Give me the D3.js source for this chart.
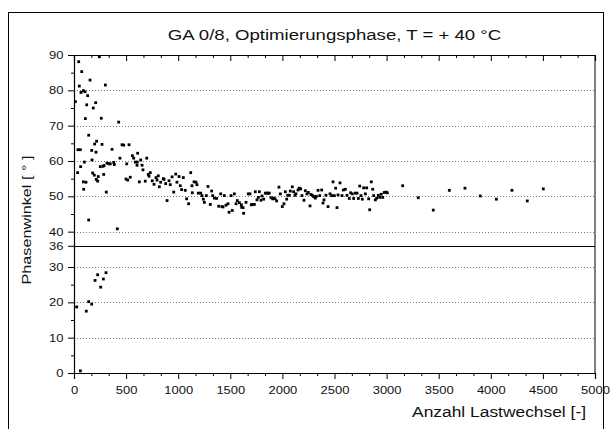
<!DOCTYPE html>
<html>
<head>
<meta charset="utf-8">
<script src="https://cdn.jsdelivr.net/npm/d3@7"></script>
<style>
  body { margin: 0; background: #fff; }
  text { font-family: "Liberation Sans", Arial, Helvetica, sans-serif; fill: #111; }
</style>
</head>
<body>
<script>
'use strict';

// chart texts
const titleText = "GA 0/8, Optimierungsphase, T = + 40 °C";
const xLabelText = "Anzahl Lastwechsel [-]";
const yLabelText = "Phasenwinkel [ ° ]";

// tick values
const xTickValues = [0, 500, 1000, 1500, 2000, 2500, 3000, 3500, 4000, 4500, 5000];
const yTickValues = [0, 10, 20, 30, 36, 40, 50, 60, 70, 80, 90];
const yGridValues = [10, 20, 30, 40, 50, 60, 70, 80];
const yMinorValues = [5, 15, 25, 45, 55, 65, 75, 85];
const breakValue = 36;

// measured points: Anzahl Lastwechsel
const lastwechsel = [
  13, 45, 74, 51, 67, 90, 106, 38, 61, 35, 64, 90, 93, 99, 109, 122, 131, 141, 115, 141,
  154, 170, 173, 179, 185, 198, 208, 211, 217, 195, 214, 233, 227, 243, 252, 262, 269, 278, 285, 288,
  301, 310, 317, 336, 348, 365, 381, 387, 416, 429, 441, 461, 477, 499, 506, 515, 528, 540, 560, 573,
  588, 607, 611, 605, 627, 640, 653, 662, 684, 698, 713, 720, 732, 751, 768, 787, 809, 797, 819, 832,
  857, 864, 880, 893, 912, 924, 941, 957, 976, 988, 1008, 1020, 1033, 1049, 1068, 1081, 1100, 1120, 1132, 1135,
  1152, 1171, 1180, 1193, 1216, 1228, 1241, 1251, 1270, 1286, 1308, 1321, 1331, 1347, 1369, 1389, 1408, 1420, 1430, 1443,
  1459, 1478, 1488, 1507, 1519, 1539, 1555, 1567, 1587, 1606, 1609, 1622, 1628, 1651, 1673, 1689, 1702, 1708, 1731, 1740,
  1756, 1769, 1779, 1795, 1804, 1820, 1836, 1849, 1862, 1874, 1891, 1907, 1916, 1929, 1945, 1967, 1980, 1999, 2015, 2028,
  2041, 2051, 2066, 2076, 2095, 2108, 2121, 2130, 2150, 2162, 2175, 2188, 2207, 2220, 2236, 2249, 2265, 2274, 2287, 2300,
  2316, 2325, 2342, 2358, 2377, 2390, 2399, 2418, 2438, 2457, 2473, 2486, 2498, 2511, 2524, 2534, 2553, 2572, 2585, 2604,
  2620, 2642, 2655, 2671, 2684, 2700, 2716, 2729, 2742, 2754, 2767, 2780, 2796, 2809, 2828, 2838, 2853, 2867, 2876, 2892,
  2905, 2921, 2934, 2949, 2963, 2978, 2994, 3007, 3154, 3304, 3448, 3602, 3752, 3899, 4053, 4203, 4350, 4504,
  26, 61, 118, 141, 170, 202, 227, 256, 282, 307
];

// measured points: Phasenwinkel [°]
const phasenwinkel = [
  76.8, 88.1, 85.3, 81.2, 79.4, 79.9, 79.6, 63.2, 63.2, 56.7, 58.4, 54.1, 52.0, 59.7, 72.0, 75.9, 78.5, 67.3, 54.0, 43.3,
  82.9, 63.0, 60.3, 56.6, 75.0, 64.8, 76.5, 62.5, 65.6, 56.0, 54.8, 55.6, 54.3, 89.5, 58.4, 72.1, 64.7, 58.5, 56.2, 58.7,
  81.5, 51.2, 59.4, 59.2, 59.2, 63.3, 59.6, 59.0, 40.8, 71.0, 60.8, 64.6, 64.5, 54.9, 59.2, 54.6, 64.6, 55.4, 61.5, 60.8,
  59.7, 59.7, 62.2, 58.8, 54.1, 60.3, 58.8, 57.5, 54.3, 60.8, 56.2, 55.7, 56.7, 54.4, 53.4, 55.3, 55.8, 54.6, 52.7, 54.0,
  55.0, 54.8, 53.6, 48.8, 54.4, 53.3, 55.5, 51.2, 56.3, 54.0, 55.6, 53.0, 51.9, 55.3, 51.7, 49.3, 47.9, 56.7, 53.0, 51.0,
  54.1, 54.0, 53.3, 50.9, 50.9, 50.2, 49.2, 48.3, 50.2, 52.8, 47.7, 51.5, 50.2, 49.5, 49.4, 47.2, 50.7, 47.1, 47.0, 50.2,
  47.5, 47.9, 45.5, 50.2, 46.0, 50.7, 47.9, 48.8, 48.2, 47.6, 46.9, 46.8, 45.2, 48.3, 50.7, 50.7, 47.6, 47.7, 47.7, 51.3,
  49.0, 49.7, 51.3, 48.9, 50.1, 49.2, 50.9, 50.9, 50.9, 50.9, 49.6, 49.3, 49.5, 49.3, 48.7, 52.6, 50.7, 47.1, 47.9, 51.3,
  49.2, 50.3, 50.3, 51.5, 52.7, 51.3, 50.3, 50.7, 51.8, 52.3, 52.1, 50.2, 48.9, 51.6, 50.7, 51.1, 47.3, 50.5, 50.3, 49.9,
  49.5, 50.0, 51.7, 50.2, 51.8, 48.1, 49.0, 50.3, 47.1, 50.7, 50.2, 54.1, 50.2, 52.3, 46.8, 50.4, 53.8, 50.2, 51.8, 52.0,
  50.3, 49.4, 51.0, 50.7, 49.4, 50.9, 50.9, 49.4, 52.9, 50.2, 49.2, 52.4, 50.7, 52.4, 49.3, 46.2, 54.1, 52.0, 50.2, 49.0,
  49.5, 50.3, 49.7, 50.6, 49.7, 51.1, 51.2, 51.0, 53.0, 49.6, 46.1, 51.7, 52.3, 50.1, 49.2, 51.7, 48.7, 52.1,
  18.7, 0.6, 17.5, 20.2, 19.5, 26.2, 27.8, 24.3, 26.6, 28.4
];

const width = 611, height = 429;
const plot = { left: 74, right: 595, top: 55, bottom: 373 };
const stretch = 1.2; // the lettering in the picture is wider than Arial

const svg = d3.select('body').append('svg')
  .attr('width', width)
  .attr('height', height);

// outer frame (runs off the bottom of the picture)
svg.append('rect')
  .attr('x', 8.5).attr('y', 12.5)
  .attr('width', 595).attr('height', 440)
  .attr('fill', 'none')
  .attr('stroke', '#000')
  .attr('stroke-width', 1);

const x = d3.scaleLinear().domain([0, 5000]).range([plot.left, plot.right]);
const y = d3.scaleLinear().domain([0, 90]).range([plot.bottom, plot.top]);

// dotted grid lines
svg.append('g').selectAll('line')
  .data(yGridValues)
  .enter().append('line')
  .attr('x1', plot.left).attr('x2', plot.right)
  .attr('y1', d => Math.round(y(d)) + 0.5)
  .attr('y2', d => Math.round(y(d)) + 0.5)
  .attr('stroke', '#777')
  .attr('stroke-width', 1)
  .attr('stroke-dasharray', '1,2');

// bottom axis
const xMinor = d3.range(0, 5000, 500 / 3).filter(v => Math.abs(v / 500 - Math.round(v / 500)) > 0.01);
const xAxis = svg.append('g')
  .attr('transform', 'translate(0,' + plot.bottom + ')')
  .call(d3.axisBottom(x).tickValues(xTickValues).tickSize(6).tickPadding(7).tickFormat(d3.format('d')));
xAxis.selectAll('.tick text').attr('transform', 'scale(' + stretch + ',1)');
svg.append('g')
  .attr('transform', 'translate(0,' + plot.bottom + ')')
  .call(d3.axisBottom(x).tickValues(xMinor).tickSize(3).tickFormat(''))
  .select('.domain').remove();

// top axis, ticks pointing inward
svg.append('g')
  .attr('transform', 'translate(0,' + plot.top + ')')
  .call(d3.axisBottom(x).tickValues(xTickValues).tickSize(6).tickFormat(''));
svg.append('g')
  .attr('transform', 'translate(0,' + plot.top + ')')
  .call(d3.axisBottom(x).tickValues(xMinor).tickSize(3).tickFormat(''))
  .select('.domain').remove();

// left axis
const yAxis = svg.append('g')
  .attr('transform', 'translate(' + plot.left + ',0)')
  .call(d3.axisLeft(y).tickValues(yTickValues).tickSize(6).tickFormat(d3.format('d')));
yAxis.selectAll('.tick text')
  .attr('x', 0)
  .attr('transform', 'translate(-10.5,0) scale(' + stretch + ',1)');
svg.append('g')
  .attr('transform', 'translate(' + plot.left + ',0)')
  .call(d3.axisLeft(y).tickValues(yMinorValues).tickSize(3).tickFormat(''))
  .select('.domain').remove();

// right border
svg.append('line')
  .attr('x1', plot.right).attr('x2', plot.right)
  .attr('y1', plot.top).attr('y2', plot.bottom)
  .attr('stroke', '#000');

// panel separator at 36
svg.append('line')
  .attr('x1', plot.left).attr('x2', plot.right)
  .attr('y1', Math.round(y(breakValue)) + 0.5)
  .attr('y2', Math.round(y(breakValue)) + 0.5)
  .attr('stroke', '#000')
  .attr('stroke-width', 1.2);

svg.selectAll('.domain').attr('stroke', '#000').attr('stroke-width', 1.2);
svg.selectAll('.tick line').attr('stroke', '#000');
svg.selectAll('.tick text')
  .style('font-family', '"Liberation Sans", Arial, sans-serif')
  .style('font-size', '10.8px')
  .attr('fill', '#111');

// points
const points = lastwechsel.map((v, i) => ({ n: v, p: phasenwinkel[i] }));
svg.append('g').selectAll('rect')
  .data(points)
  .enter().append('rect')
  .attr('x', d => x(d.n) - 1.4)
  .attr('y', d => y(d.p) - 1.4)
  .attr('width', 2.8)
  .attr('height', 2.8)
  .attr('fill', '#000');

// title and labels
svg.append('text')
  .attr('transform', 'translate(' + ((plot.left + plot.right) / 2) + ',40) scale(' + stretch + ',1)')
  .attr('text-anchor', 'middle')
  .style('font-size', '15.5px')
  .text(titleText);

svg.append('text')
  .attr('transform', 'translate(586,417) scale(' + stretch + ',1)')
  .attr('text-anchor', 'end')
  .style('font-size', '14.5px')
  .text(xLabelText);

svg.append('text')
  .attr('transform', 'translate(31,220) rotate(-90) scale(' + stretch + ',1)')
  .attr('text-anchor', 'middle')
  .style('font-size', '13.5px')
  .text(yLabelText);
</script>
</body>
</html>
